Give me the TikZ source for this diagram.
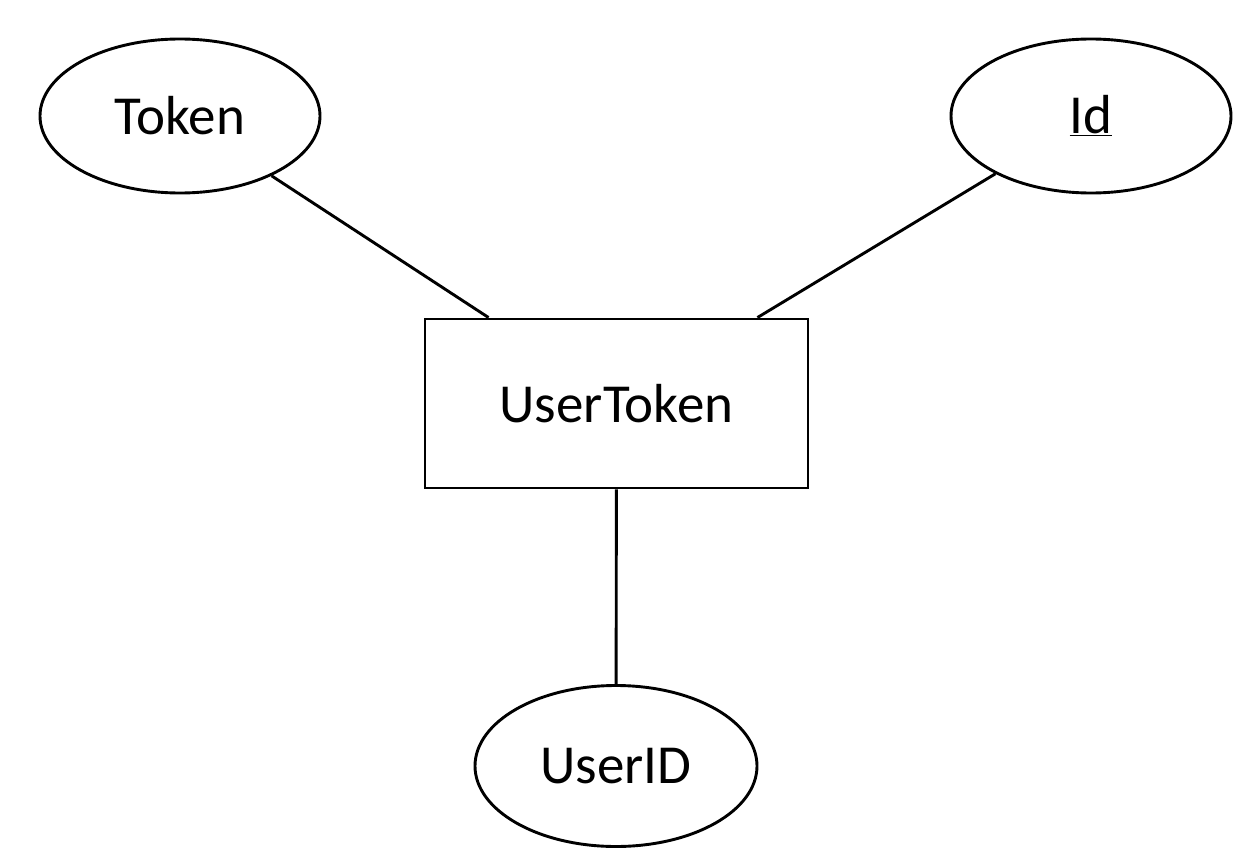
\documentclass[tikz,border=0pt]{standalone}
\usepackage{fontspec}
\setmainfont{Carlito}
\usetikzlibrary{shapes.geometric}
\begin{document}
\begin{tikzpicture}[x=1pt,y=-1pt,
  attr/.style={draw=black,line width=2.9pt,ellipse,inner sep=0pt,font=\fontsize{55}{66}\selectfont},
  ent/.style={draw=black,line width=2.9pt,rectangle,inner sep=0pt,font=\fontsize{55}{66}\selectfont},
  conn/.style={line width=2.9pt}]
\useasboundingbox[fill=white] (0,0) rectangle (1252,861);
\node[attr,minimum width=280pt,minimum height=154pt] (token) at (180,116) {Token};
\node[attr,minimum width=280pt,minimum height=154pt] (id) at (1091,116) {\underline{Id}};
\node[ent,minimum width=383pt,minimum height=169pt] (ut) at (616.5,403.5) {UserToken};
\node[attr,minimum width=282pt,minimum height=161pt] (uid) at (616,766) {UserID};
\coordinate (utl) at ([xshift=65pt]ut.north west);
\coordinate (utr) at ([xshift=-52pt]ut.north east);
\draw[conn] (token) -- (utl);
\draw[conn] (id) -- (utr);
\draw[conn] (ut) -- (uid);
\end{tikzpicture}
\end{document}
